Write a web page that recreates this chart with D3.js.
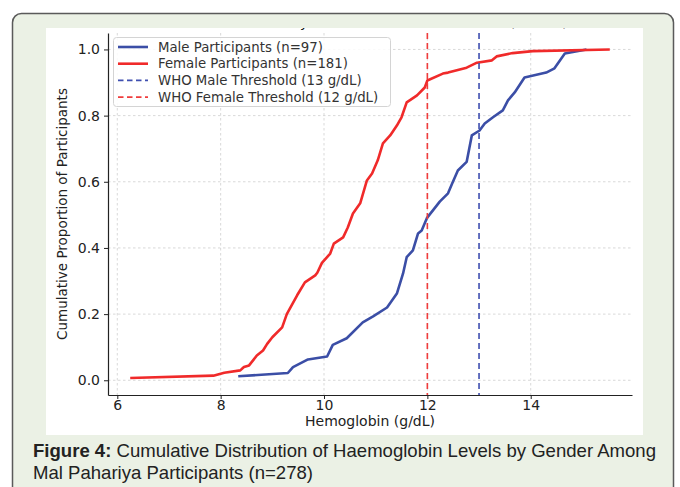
<!DOCTYPE html>
<html><head><meta charset="utf-8">
<script src="https://cdn.jsdelivr.net/npm/d3@7/dist/d3.min.js"></script>
<style>html,body{margin:0;padding:0;background:#fff;}svg{display:block;}</style>
</head><body>
<svg id="chart" width="680" height="487"></svg>
<script>
// ---- data ----
const xTicks = [6, 8, 10, 12, 14];
const yTicks = [0.0, 0.2, 0.4, 0.6, 0.8, 1.0];
const femaleHb  = [6.25, 7.86, 8.07, 8.38, 8.45, 8.55, 8.70, 8.82, 8.90, 9.00, 9.19, 9.28, 9.48, 9.63, 9.83, 9.87, 9.96, 10.12, 10.19, 10.37, 10.46, 10.56, 10.70, 10.83, 10.93, 11.04, 11.14, 11.28, 11.41, 11.50, 11.60, 11.80, 11.95, 12.00, 12.30, 12.40, 12.76, 12.96, 13.25, 13.34, 13.65, 14.04, 15.53];
const femaleCum = [0.007, 0.014, 0.023, 0.030, 0.040, 0.045, 0.075, 0.090, 0.110, 0.130, 0.160, 0.200, 0.257, 0.296, 0.317, 0.325, 0.355, 0.383, 0.413, 0.432, 0.462, 0.504, 0.535, 0.604, 0.625, 0.665, 0.716, 0.740, 0.770, 0.795, 0.840, 0.861, 0.885, 0.906, 0.927, 0.930, 0.945, 0.960, 0.967, 0.979, 0.989, 0.995, 1.000];
const maleHb  = [8.34, 9.30, 9.40, 9.69, 10.06, 10.17, 10.44, 10.75, 10.95, 11.22, 11.41, 11.53, 11.60, 11.72, 11.82, 11.89, 11.99, 12.24, 12.40, 12.48, 12.59, 12.76, 12.86, 13.01, 13.11, 13.27, 13.46, 13.56, 13.69, 13.88, 14.30, 14.46, 14.66, 15.08];
const maleCum = [0.012, 0.022, 0.040, 0.063, 0.072, 0.107, 0.127, 0.175, 0.193, 0.220, 0.262, 0.323, 0.372, 0.393, 0.444, 0.453, 0.490, 0.540, 0.565, 0.595, 0.634, 0.660, 0.740, 0.755, 0.776, 0.795, 0.816, 0.846, 0.870, 0.915, 0.930, 0.943, 0.988, 1.000];
const thresholds = [12, 13];
const legendLabels = ["Male Participants (n=97)", "Female Participants (n=181)", "WHO Male Threshold (13 g/dL)", "WHO Female Threshold (12 g/dL)"];
const xLabel = "Hemoglobin (g/dL)";
const yLabel = "Cumulative Proportion of Participants";
const titleText = "Cumulative Distribution of Hb Levels by Gender vs WHO Thresholds (n=278)";
const captionBold = "Figure 4:";
const captionLine1 = " Cumulative Distribution of Haemoglobin Levels by Gender Among";
const captionLine2 = "Mal Pahariya Participants (n=278)";

// ---- drawing ----
const svg = d3.select("#chart");
const RED = "#f02a2a", BLUE = "#3b4ea6";
const FONT = "DejaVu Sans, sans-serif";

// panel
svg.append("rect").attr("x", 12.5).attr("y", 13.5).attr("width", 661).attr("height", 520)
  .attr("rx", 9).attr("fill", "#ebf1e5").attr("stroke", "#5a5a5a").attr("stroke-width", 1.5);
svg.append("rect").attr("x", 46).attr("y", 28).attr("width", 597).attr("height", 407).attr("fill", "#fff");

const defs = svg.append("defs");
defs.append("clipPath").attr("id", "whiteclip").append("rect")
  .attr("x", 46).attr("y", 28).attr("width", 597).attr("height", 407);

// clipped (cut-off) title
svg.append("text").attr("clip-path", "url(#whiteclip)")
  .attr("x", 299).attr("y", 26.5).attr("text-anchor", "middle")
  .attr("font-family", FONT).attr("font-size", 14).attr("fill", "#111").text(titleText);

const m = {l: 108, r: 632, t: 33, b: 395};
const x = d3.scaleLinear().domain([5.82, 15.96]).range([m.l, m.r]);
const y = d3.scaleLinear().domain([-0.0445, 1.0497]).range([m.b, m.t]);

// grid
const g = svg.append("g");
g.selectAll(".vg").data(xTicks).join("line")
  .attr("x1", d => x(d)).attr("x2", d => x(d)).attr("y1", m.t).attr("y2", m.b)
  .attr("stroke", "#cfcfcf").attr("stroke-width", 0.8).attr("stroke-dasharray", "2.5,2.5");
g.selectAll(".hg").data(yTicks).join("line")
  .attr("x1", m.l).attr("x2", m.r).attr("y1", d => y(d)).attr("y2", d => y(d))
  .attr("stroke", "#cfcfcf").attr("stroke-width", 0.8).attr("stroke-dasharray", "2.5,2.5");

// curves
const line = d3.line().x(d => x(d[0])).y(d => y(d[1]));
svg.append("path").datum(maleHb.map((v, i) => [v, maleCum[i]]))
  .attr("d", line).attr("fill", "none").attr("stroke", BLUE).attr("stroke-width", 2.6).attr("stroke-linejoin", "round");
svg.append("path").datum(femaleHb.map((v, i) => [v, femaleCum[i]]))
  .attr("d", line).attr("fill", "none").attr("stroke", RED).attr("stroke-width", 2.6).attr("stroke-linejoin", "round");

// thresholds
svg.selectAll(".thr").data(thresholds).join("line")
  .attr("x1", d => x(d)).attr("x2", d => x(d)).attr("y1", m.t).attr("y2", m.b)
  .attr("stroke", (d, i) => i === 0 ? "#ef3c3c" : "#3f4fb0").attr("stroke-width", 1.6)
  .attr("stroke-dasharray", "6,4");

// axes
const xAxis = svg.append("g").attr("transform", `translate(0,${m.b})`)
  .call(d3.axisBottom(x).tickValues(xTicks).tickFormat(d3.format("d")).tickSize(4).tickPadding(1.5).tickSizeOuter(0));
const yAxis = svg.append("g").attr("transform", `translate(${m.l},0)`)
  .call(d3.axisLeft(y).tickValues(yTicks).tickFormat(d3.format(".1f")).tickSize(4).tickPadding(4).tickSizeOuter(0));
[xAxis, yAxis].forEach(a => {
  a.select(".domain").attr("stroke", "#222").attr("stroke-width", 1.2);
  a.selectAll(".tick line").attr("stroke", "#222");
  a.selectAll(".tick text").attr("font-family", FONT).attr("font-size", 14).attr("fill", "#222");
});

svg.append("text").attr("x", (m.l + m.r) / 2).attr("y", 426).attr("text-anchor", "middle")
  .attr("font-family", FONT).attr("font-size", 14).attr("fill", "#222").text(xLabel);
svg.append("text").attr("transform", `translate(67,${(m.t + m.b) / 2}) rotate(-90)`)
  .attr("text-anchor", "middle").attr("font-family", FONT).attr("font-size", 13.5).attr("fill", "#222").text(yLabel);

// legend
const lg = svg.append("g");
lg.append("rect").attr("x", 113.5).attr("y", 37.5).attr("width", 277).attr("height", 69).attr("rx", 3)
  .attr("fill", "#fff").attr("fill-opacity", 0.85).attr("stroke", "#d4d4d4");
const legendColors = [BLUE, RED, "#3f4fb0", "#ef3c3c"];
const legendDash = [null, null, "5.5,3.5", "5.5,3.5"];
const legendW = [2.6, 2.6, 1.6, 1.6];
legendLabels.forEach((t, i) => {
  const yy = 47 + i * 16.7;
  lg.append("line").attr("x1", 118).attr("x2", 148).attr("y1", yy).attr("y2", yy)
    .attr("stroke", legendColors[i]).attr("stroke-width", legendW[i]).attr("stroke-dasharray", legendDash[i]);
  lg.append("text").attr("x", 158).attr("y", yy).attr("dy", "0.35em")
    .attr("font-family", FONT).attr("font-size", 13.3).attr("fill", "#333").text(t);
});

// caption
const CFONT = "'Liberation Sans Narrow', 'Liberation Sans', Arial, sans-serif";
const c1 = svg.append("text").attr("x", 33).attr("y", 457).attr("font-family", CFONT).attr("font-size", 18.5).attr("fill", "#222")
  .attr("textLength", 623).attr("lengthAdjust", "spacingAndGlyphs");
c1.append("tspan").attr("font-weight", "bold").text(captionBold);
c1.append("tspan").text(captionLine1);
svg.append("text").attr("x", 33).attr("y", 479).attr("font-family", CFONT).attr("font-size", 18.5).attr("fill", "#222")
  .attr("textLength", 280).attr("lengthAdjust", "spacingAndGlyphs").text(captionLine2);
</script>
</body></html>
